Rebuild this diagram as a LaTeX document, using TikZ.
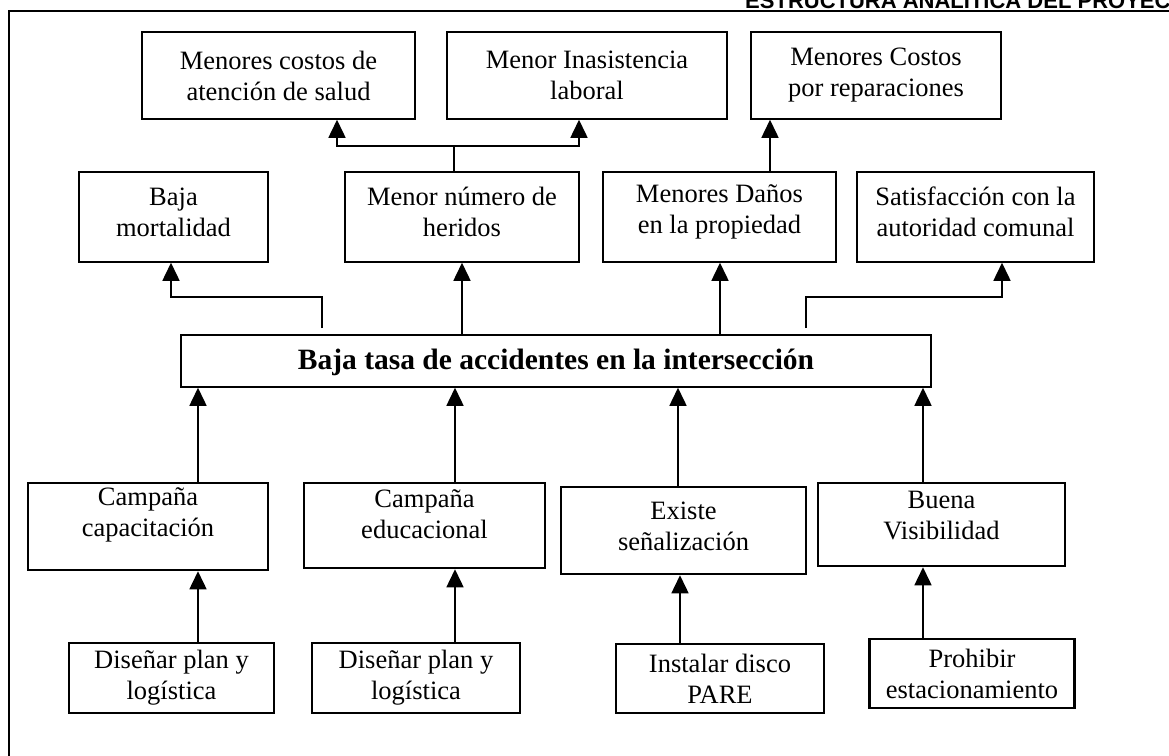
\documentclass[tikz,border=0pt]{standalone}
\usepackage{fontspec}
\setmainfont{Liberation Serif}
\newfontfamily\hdrfont{Liberation Sans}
\usetikzlibrary{arrows.meta}
\begin{document}
\begin{tikzpicture}[x=1pt,y=-1pt,
  box/.style={draw, line width=1.5pt, inner sep=0pt},
  thk/.style={draw, line width=2.5pt, inner sep=0pt},
  txt/.style={align=center, inner sep=0pt, font=\fontsize{26.5}{31}\selectfont},
  bld/.style={align=center, inner sep=0pt, font=\fontsize{29.5}{33}\selectfont\bfseries},
  ln/.style={line width=1.5pt},
  arr/.style={line width=1.5pt, -{Triangle[width=17pt,length=18pt]}}]
\useasboundingbox (0,0) rectangle (1169,755);
% outer frame and cut header
\draw[ln] (9,760) -- (9,11) -- (1175,11);
\node[anchor=base west, inner sep=0pt, font=\hdrfont\bfseries\fontsize{22}{24}\selectfont] (hdr) at (745,8.5) {ESTRUCTURA ANALÍTICA DEL PROYECTO};
% top row
\node[box, minimum width=273pt, minimum height=87pt] (a1) at (278.5,75.5) {};
\node[txt] (a1t) at (278.5,75.5) {Menores costos de\\atención de salud};
\node[box, minimum width=280pt, minimum height=87pt] (a2) at (587,75.5) {};
\node[txt] (a2t) at (587,75.5) {Menor Inasistencia\\laboral};
\node[box, minimum width=250pt, minimum height=87pt] (a3) at (876,75.5) {};
\node[txt] (a3t) at (876,75.5) {Menores Costos\\por reparaciones};
% second row
\node[box, minimum width=189pt, minimum height=90pt] (b1) at (173.5,217) {};
\node[txt] (b1t) at (173.5,212) {Baja\\mortalidad};
\node[box, minimum width=234pt, minimum height=90pt] (b2) at (462,217) {};
\node[txt] (b2t) at (462,212) {Menor número de\\heridos};
\node[box, minimum width=233pt, minimum height=90pt] (b3) at (719.5,217) {};
\node[txt] (b3t) at (719.5,212) {Menores Daños\\en la propiedad};
\node[box, minimum width=237pt, minimum height=90pt] (b4) at (975.5,217) {};
\node[txt] (b4t) at (975.5,212) {Satisfacción con la\\autoridad comunal};
% centre
\node[box, minimum width=750pt, minimum height=52pt] (c) at (556,361) {};
\node[bld] (ct) at (556,362) {Baja tasa de accidentes en la intersección};
% third row
\node[thk, minimum width=240pt, minimum height=87pt] (d1) at (148,526.5) {};
\node[txt] (d1t) at (148,515) {Campaña\\capacitación};
\node[thk, minimum width=241pt, minimum height=85pt] (d2) at (424.5,525.5) {};
\node[txt] (d2t) at (424.5,514) {Campaña\\educacional};
\node[thk, minimum width=245pt, minimum height=87pt] (d3) at (683.5,530.5) {};
\node[txt] (d3t) at (683.5,526) {Existe\\señalización};
\node[thk, minimum width=247pt, minimum height=83pt] (d4) at (941.5,524.5) {};
\node[txt] (d4t) at (941.5,516) {Buena\\Visibilidad};
% bottom row
\node[thk, minimum width=205pt, minimum height=70pt] (e1) at (171.5,678) {};
\node[txt] (e1t) at (171.5,678) {Diseñar plan y\\logística};
\node[thk, minimum width=208pt, minimum height=70pt] (e2) at (416,678) {};
\node[txt] (e2t) at (416,678) {Diseñar plan y\\logística};
\node[thk, minimum width=208pt, minimum height=69pt] (e3) at (720,678.5) {};
\node[txt] (e3t) at (720,678.5) {Instalar disco\\PARE};
\node[thk, minimum width=205pt, minimum height=69pt] (e4) at (972,673.5) {};
\node[txt] (e4t) at (972,673.5) {Prohibir\\estacionamiento};
% x positions of connectors
\coordinate (xa1) at (337,0);
\coordinate (xa2) at (579,0);
\coordinate (xst) at (454,0);
\coordinate (xa3) at (770,0);
\coordinate (xb1) at (171,0);
\coordinate (xb2) at (462,0);
\coordinate (xb3) at (720,0);
\coordinate (xb4) at (1002,0);
\coordinate (xd1) at (198,0);
\coordinate (xd2) at (455,0);
\coordinate (xd3) at (678,0);
\coordinate (xd4) at (923,0);
\coordinate (xe1) at (198,0);
\coordinate (xe2) at (455,0);
\coordinate (xe3) at (680,0);
\coordinate (xe4) at (923,0);
\coordinate (ya) at (0,146);
\coordinate (yb) at (0,297);
\coordinate (s1) at (322,328);
\coordinate (s4) at (806,328);
% top connectors
\draw[ln] (b2.north -| xst) -- (ya -| xst);
\draw[arr] (ya -| xst) -- (ya -| xa1) -- (a1.south -| xa1);
\draw[arr] (ya -| xst) -- (ya -| xa2) -- (a2.south -| xa2);
\draw[arr] (b3.north -| xa3) -- (a3.south -| xa3);
% centre to second row
\draw[arr] (s1) -- (yb -| s1) -- (yb -| xb1) -- (b1.south -| xb1);
\draw[arr] (c.north -| xb2) -- (b2.south -| xb2);
\draw[arr] (c.north -| xb3) -- (b3.south -| xb3);
\draw[arr] (s4) -- (yb -| s4) -- (yb -| xb4) -- (b4.south -| xb4);
% third row to centre
\draw[arr] (d1.north -| xd1) -- (c.south -| xd1);
\draw[arr] (d2.north -| xd2) -- (c.south -| xd2);
\draw[arr] (d3.north -| xd3) -- (c.south -| xd3);
\draw[arr] (d4.north -| xd4) -- (c.south -| xd4);
% bottom row to third row
\draw[arr] (e1.north -| xe1) -- (d1.south -| xe1);
\draw[arr] (e2.north -| xe2) -- (d2.south -| xe2);
\draw[arr] (e3.north -| xe3) -- (d3.south -| xe3);
\draw[arr] (e4.north -| xe4) -- (d4.south -| xe4);
\end{tikzpicture}
\end{document}
